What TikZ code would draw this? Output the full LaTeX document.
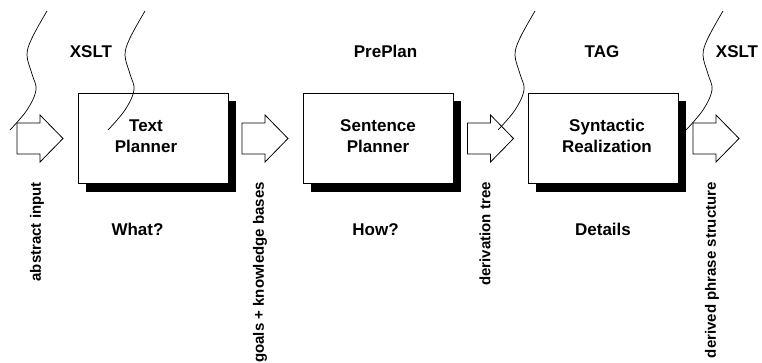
\documentclass[tikz,border=0pt]{standalone}
\usepackage{fontspec}
\setmainfont{Liberation Sans}
\begin{document}
\begin{tikzpicture}[x=1pt,y=-1pt,
  procbox/.style={draw=black,line width=0.8pt,fill=white},
  shadowfill/.style={fill=black},
  fatarrow/.style={draw=black,line width=0.8pt,fill=white,line join=miter},
  wave/.style={draw=black,line width=0.7pt},
  boxtext/.style={align=center,font=\fontsize{17}{21}\selectfont\bfseries,inner sep=0pt},
  toplabel/.style={anchor=base,font=\fontsize{17}{21}\selectfont\bfseries,inner sep=0pt},
  vlabel/.style={rotate=90,anchor=east,font=\fontsize{15}{18}\selectfont\bfseries,inner sep=0pt}]
\useasboundingbox (0,0) rectangle (762,362);

% boxes with shadows
\foreach \nm/\bx in {tp/78,sp/303,sr/528}{
  \fill[shadowfill] (\bx+8,101) rectangle (\bx+158,192);
  \draw[procbox] (\bx,93) rectangle (\bx+150,183);
  \coordinate (\nm) at (\bx+75,138);
}
\node[boxtext] (tpt) at (146,136) {Text\\Planner};
\node[boxtext] (spt) at (378,136) {Sentence\\Planner};
\node[boxtext] (srt) at (607,136) {Syntactic\\Realization};

% fat arrows
\foreach \nm/\s in {a1/17,a2/242,a3/467.5,a4/693}{
  \coordinate (\nm) at (\s,138);
  \draw[fatarrow] (\nm) ++(0,-15) -- ++(23,0) -- ++(0,-8) -- ++(23,23.5) -- ++(-23,23.5) -- ++(0,-8) -- ++(-23,0) -- cycle;
}

% top labels
\node[toplabel] (l1) at (91,57) {XSLT};
\node[toplabel] (l2) at (385.5,57) {PrePlan};
\node[toplabel] (l3) at (602,57) {TAG};
\node[toplabel] (l4) at (737,57) {XSLT};

% bottom labels
\node[toplabel] (b1) at (137.5,235) {What?};
\node[toplabel] (b2) at (375.5,235) {How?};
\node[toplabel] (b3) at (603,235) {Details};

% vertical labels
\node[vlabel] (v1) at (37,182) {abstract input};
\node[vlabel] (v2) at (260,182) {goals + knowledge bases};
\node[vlabel] (v3) at (485,182) {derivation tree};
\node[vlabel] (v4) at (712,182) {derived phrase structure};

% wavy lines
\foreach \x in {47,145,535,723}{
  \draw[wave] plot[smooth,tension=0.6] coordinates {(\x,11) (\x-15,38) (\x-20,55) (\x-15,74) (\x-11,90) (\x-20,110) (\x-37,130)};
}
\end{tikzpicture}
\end{document}
